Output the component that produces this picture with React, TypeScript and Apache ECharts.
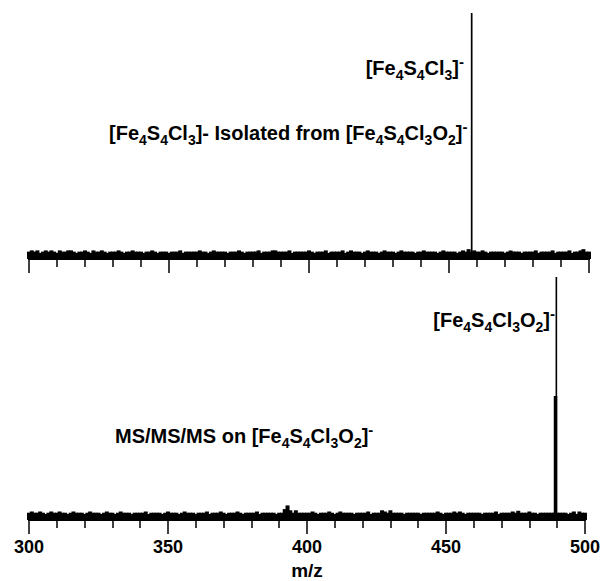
import React, { useEffect, useRef } from 'react';
import * as echarts from 'echarts';

const MZ_START = 300;
const MZ_END = 500;
const TICK_INTERVAL = 50;

// baseline noise, % of base peak, one value per m/z from 300 to 500
const topNoise = [
  3, 3.5, 3, 3.5, 2.5, 3, 3.5, 3, 3.5, 3,
  2.5, 3.5, 3, 3, 3.5, 3.5, 3, 2.5, 3, 3,
  3.5, 3, 2.5, 3.5, 3, 3, 3.5, 3, 2.5, 3,
  3, 3, 3.5, 3, 2.5, 3, 3, 3.5, 3, 3,
  3, 2.5, 3, 3, 3.5, 3, 2.5, 3, 3, 3,
  2.5, 3, 3, 3, 3.5, 2.5, 3, 3, 3, 3,
  3, 3.5, 3, 3, 2.5, 3, 3.5, 3, 3, 3,
  3, 2.5, 3, 3, 3, 3.5, 3, 2.5, 3, 3,
  3, 3, 3.5, 2.5, 3, 3, 3, 3.5, 3.5, 3,
  3, 3, 3, 3.5, 2.5, 3, 3, 3, 3, 3,
  3.5, 3, 2.5, 3, 3, 3, 3.5, 2.5, 3, 3,
  3, 3, 3.5, 2.5, 3, 3.5, 3, 3, 3, 2.5,
  3, 3.5, 3, 3, 3, 2.5, 3, 3.5, 3, 3,
  3, 2.5, 3, 3.5, 3, 3, 3, 3, 2.5, 3,
  3, 3.5, 3, 3, 3, 3, 2.5, 3, 3.5, 3,
  3, 3, 3, 2.5, 3, 3.5, 3, 4, 3, 3.5,
  3, 3, 3.5, 3, 2.5, 3, 3, 3, 3, 3,
  2.5, 3, 3.5, 3, 3, 3, 2.5, 3, 3, 3,
  3, 3.5, 2.5, 3, 3, 3, 3, 3.5, 2.5, 3,
  3, 3, 3, 3.5, 2.5, 3, 3, 3.5, 4, 3,
  3,
];

const bottomNoise = [
  3, 3.5, 3, 3, 3.5, 3, 2.5, 3, 3.5, 3,
  3, 3.5, 3, 3, 2.5, 3, 3.5, 3, 3, 3,
  2.5, 3, 3.5, 3, 3, 3, 2.5, 3, 3.5, 3,
  3, 2.5, 3, 3.5, 3, 3, 3, 2.5, 3, 3,
  3, 3, 3.5, 2.5, 3, 3, 3, 3, 2.5, 3,
  3.5, 3, 3, 3, 2.5, 3, 3.5, 3, 3, 3,
  2.5, 3, 3, 3, 3.5, 2.5, 3, 3, 3, 3.5,
  3, 2.5, 3, 3, 3, 3.5, 3, 2.5, 3, 3,
  3, 3, 3.5, 2.5, 3, 3, 3, 3, 3, 2.5,
  3, 3, 4.5, 6, 4, 3, 4, 3, 3, 3,
  3, 3, 3.5, 3, 2.5, 3, 3, 3, 3.5, 3,
  2.5, 3, 3.5, 3, 3, 3, 3, 2.5, 3, 3,
  3, 3, 3.5, 2.5, 3, 3, 3, 4, 3.5, 3,
  4, 3, 3, 3, 3, 2.5, 3, 3, 3, 3,
  3, 2.5, 3, 3, 3, 3, 3, 3.5, 3, 2.5,
  3, 3, 3, 3.5, 3, 3.5, 3, 2.5, 3, 3,
  3, 3, 3, 2.5, 3, 3, 3, 3, 3.5, 2.5,
  3, 3, 3, 3, 3.5, 3, 3.8, 3, 3, 3,
  3.5, 3, 3, 2.5, 3, 3, 3, 3, 3, 3,
  3, 3, 3, 3, 2.5, 3, 3.5, 2.5, 3.5, 3,
  3,
];

const topPeakMz = [458.1];
const topPeakHeight = [100];
const bottomPeakMz = [489.7];
const bottomPeakHeight = [100];
const bottomShoulderMz = [489.4];
const bottomShoulderHeight = [51];

const FONT = '"Liberation Sans", Arial, Helvetica, sans-serif';

const rich = {
  m: { fontSize: 20, fontWeight: 'bold', fontFamily: FONT, lineHeight: 28, fill: '#000' },
  s: { fontSize: 14, fontWeight: 'bold', fontFamily: FONT, lineHeight: 14, verticalAlign: 'bottom', fill: '#000' },
  u: { fontSize: 15, fontWeight: 'bold', fontFamily: FONT, lineHeight: 15, verticalAlign: 'top', fill: '#000' },
};

const FE4S4CL3 = '{m|[Fe}{s|4}{m|S}{s|4}{m|Cl}{s|3}{m|]}';
const FE4S4CL3O2 = '{m|[Fe}{s|4}{m|S}{s|4}{m|Cl}{s|3}{m|O}{s|2}{m|]}{u|-}';

function noiseData(vals: number[]) {
  return vals.map((v, i) => [MZ_START + i, v]);
}
function stickData(mz: number[], h: number[]) {
  const out: number[][] = [];
  mz.forEach((x, i) => {
    out.push([x, 0], [x, h[i]]);
  });
  return out;
}

function xAxis(gridIndex: number, labels: boolean) {
  return {
    type: 'value',
    gridIndex,
    min: MZ_START,
    max: MZ_END,
    interval: TICK_INTERVAL,
    position: 'bottom',
    axisLine: { show: true, onZero: false, lineStyle: { color: '#000', width: 2 } },
    axisTick: { show: true, length: 14, lineStyle: { color: '#000', width: 1.5 } },
    minorTick: { show: true, splitNumber: 5, length: 8, lineStyle: { color: '#000', width: 1.5 } },
    splitLine: { show: false },
    minorSplitLine: { show: false },
    axisLabel: labels
      ? { show: true, margin: 18, color: '#000', fontSize: 18, fontWeight: 'bold', fontFamily: FONT }
      : { show: false },
    name: labels ? 'm/z' : '',
    nameLocation: 'middle',
    nameGap: 41,
    nameTextStyle: { color: '#000', fontSize: 19, fontWeight: 'bold', fontFamily: FONT },
  };
}

function yAxis(gridIndex: number) {
  return { type: 'value', gridIndex, min: 0, max: 100, show: false };
}

export default function App() {
  const ref = useRef<HTMLDivElement>(null);
  useEffect(() => {
    if (!ref.current) return;
    const chart = echarts.init(ref.current, undefined, { renderer: 'svg' });
    chart.setOption({
      animation: false,
      backgroundColor: '#fff',
      grid: [
        { left: 29, right: 14, top: 13, height: 246 },
        { left: 29, right: 14, top: 277, height: 244 },
      ],
      xAxis: [xAxis(0, false), xAxis(1, true)],
      yAxis: [yAxis(0), yAxis(1)],
      series: [
        {
          type: 'bar', xAxisIndex: 0, yAxisIndex: 0, barWidth: 4,
          data: noiseData(topNoise), itemStyle: { color: '#000' }, silent: true,
        },
        {
          type: 'bar', xAxisIndex: 1, yAxisIndex: 1, barWidth: 4,
          data: noiseData(bottomNoise), itemStyle: { color: '#000' }, silent: true,
        },
        {
          type: 'line', xAxisIndex: 0, yAxisIndex: 0, showSymbol: false, symbol: 'none',
          data: stickData(topPeakMz, topPeakHeight), lineStyle: { color: '#000', width: 1.7 },
        },
        {
          type: 'line', xAxisIndex: 1, yAxisIndex: 1, showSymbol: false, symbol: 'none',
          data: stickData(bottomPeakMz, bottomPeakHeight), lineStyle: { color: '#000', width: 1.6 },
        },
        {
          type: 'line', xAxisIndex: 1, yAxisIndex: 1, showSymbol: false, symbol: 'none',
          data: stickData(bottomShoulderMz, bottomShoulderHeight), lineStyle: { color: '#000', width: 3.5 },
        },
      ],
      graphic: [
        {
          type: 'text', x: 464, y: 68,
          style: { text: FE4S4CL3 + '{u|-}', rich, align: 'right', verticalAlign: 'middle' },
        },
        {
          type: 'text', x: 109, y: 133,
          style: {
            text: FE4S4CL3 + '{m|- Isolated from }' + FE4S4CL3O2,
            rich, align: 'left', verticalAlign: 'middle',
          },
        },
        {
          type: 'text', x: 555, y: 320,
          style: { text: FE4S4CL3O2, rich, align: 'right', verticalAlign: 'middle' },
        },
        {
          type: 'text', x: 115, y: 436,
          style: { text: '{m|MS/MS/MS on }' + FE4S4CL3O2, rich, align: 'left', verticalAlign: 'middle' },
        },
      ],
    });
    return () => chart.dispose();
  }, []);
  return (
    <div
      ref={ref}
      style={{ position: 'fixed', left: 0, top: 0, width: 603, height: 581, background: '#fff' }}
    />
  );
}
